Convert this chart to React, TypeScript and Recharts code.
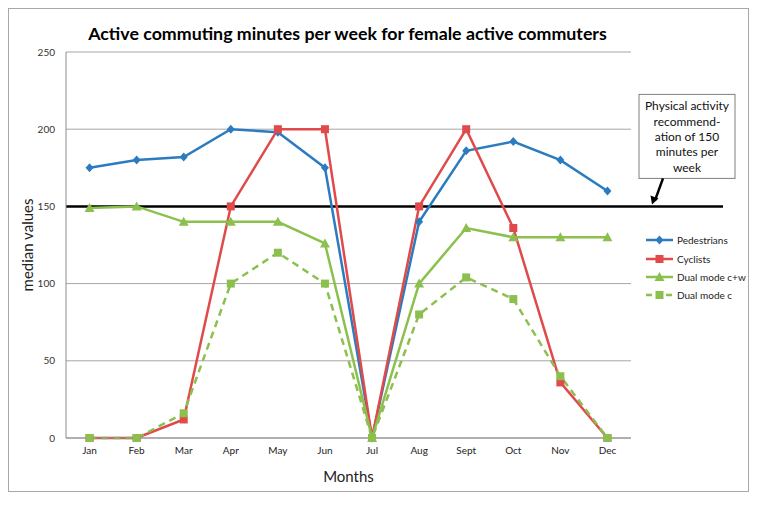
import React from 'react';
import { LineChart, Line, XAxis, YAxis, CartesianGrid, ReferenceLine, Label } from 'recharts';

const months = ['Jan', 'Feb', 'Mar', 'Apr', 'May', 'Jun', 'Jul', 'Aug', 'Sept', 'Oct', 'Nov', 'Dec'];
const pedestrians = [175, 180, 182, 200, 198, 175, 0, 140, 186, 192, 180, 160];
const cyclists = [0, 0, 12, 150, 200, 200, 0, 150, 200, 136, 36, 0];
const dualModeCW = [149, 150, 140, 140, 140, 126, 0, 100, 136, 130, 130, 130];
const dualModeC = [0, 0, 16, 100, 120, 100, 0, 80, 104, 90, 40, 0];
const yTicks = [0, 50, 100, 150, 200, 250];
const recommendation = 150;
const noteLines = ['Physical activity', 'recommend-', 'ation of 150', 'minutes per', 'week'];

const BLUE = '#2b7bc0';
const RED = '#e04a4a';
const GREEN = '#8cc04e';
const FONT = 'Lato, "Open Sans", sans-serif';

const data = months.map((m, i) => ({
  month: m,
  ped: pedestrians[i],
  cyc: cyclists[i],
  cw: dualModeCW[i],
  c: dualModeC[i],
}));

type Shape = 'diamond' | 'square' | 'triangle';

const marker = (shape: Shape, color: string, cx: number, cy: number, key?: string) => {
  if (shape === 'diamond') {
    return <polygon key={key} points={`${cx},${cy - 4.5} ${cx + 4},${cy} ${cx},${cy + 4.5} ${cx - 4},${cy}`} fill={color} />;
  }
  if (shape === 'triangle') {
    return <polygon key={key} points={`${cx},${cy - 5} ${cx + 5},${cy + 4} ${cx - 5},${cy + 4}`} fill={color} />;
  }
  return <rect key={key} x={cx - 4} y={cy - 4} width={8} height={8} fill={color} />;
};

const dotFor = (shape: Shape, color: string) => (props: any) =>
  marker(shape, color, props.cx, props.cy, `${shape}-${props.index}`);

const series = [
  { key: 'ped', name: 'Pedestrians', color: BLUE, shape: 'diamond' as Shape, dash: undefined },
  { key: 'cyc', name: 'Cyclists', color: RED, shape: 'square' as Shape, dash: undefined },
  { key: 'cw', name: 'Dual mode c+w', color: GREEN, shape: 'triangle' as Shape, dash: undefined },
  { key: 'c', name: 'Dual mode c', color: GREEN, shape: 'square' as Shape, dash: '7 5' },
];

const LegendBox = () => (
  <div style={{ position: 'absolute', left: 637, top: 223, fontFamily: FONT, fontSize: 10, color: '#222' }}>
    {series.map(s => (
      <div key={s.key} style={{ display: 'flex', alignItems: 'center', height: 18.4 }}>
        <svg width={30} height={12} style={{ marginRight: 2 }}>
          <line x1={1} y1={6} x2={28} y2={6} stroke={s.color} strokeWidth={2.5} strokeDasharray={s.dash ? '6 4' : undefined} />
          {marker(s.shape, s.color, 14.5, 6)}
        </svg>
        <span>{s.name}</span>
      </div>
    ))}
  </div>
);

const RecommendationLine = (props: any) => {
  const { x1, y1, x2 } = props;
  const boxX = x2 + 8;
  const boxY = y1 - 112;
  return (
    <g>
      <line x1={x1} y1={y1} x2={x2 + 92} y2={y1} stroke="#000" strokeWidth={2.5} />
      <rect x={boxX} y={boxY} width={96} height={84} fill="#fff" stroke="#7f7f7f" strokeWidth={1} />
      {noteLines.map((t, i) => (
        <text key={t} x={boxX + 48} y={boxY + 16 + i * 15.3} textAnchor="middle" fontFamily={FONT} fontSize={12} fill="#111">
          {t}
        </text>
      ))}
      <line x1={boxX + 24} y1={boxY + 84} x2={boxX + 16} y2={y1 - 6} stroke="#000" strokeWidth={2.5} />
      <polygon points={`${boxX + 13},${y1 - 2} ${boxX + 11.5},${y1 - 11} ${boxX + 19.5},${y1 - 8}`} fill="#000" />
    </g>
  );
};

export default function App() {
  return (
    <div style={{ position: 'relative', width: 741, height: 484 }}>
      <div style={{ position: 'absolute', inset: 0, border: '1px solid #a8a8a8', pointerEvents: 'none' }} />
      <div
        style={{
          position: 'absolute',
          left: 0,
          width: 679,
          top: 14,
          textAlign: 'center',
          fontFamily: FONT,
          fontWeight: 700,
          fontSize: 17.8,
          color: '#000',
        }}
      >
        Active commuting minutes per week for female active commuters
      </div>
      <LineChart width={741} height={484} data={data} margin={{ top: 44, right: 118, left: 28, bottom: 24 }}>
        <CartesianGrid vertical={false} stroke="#a6a6a6" strokeWidth={1} />
        <XAxis
          dataKey="month"
          scale="band"
          tickLine={false}
          axisLine={{ stroke: '#8c8c8c' }}
          tick={{ fontSize: 10, fill: '#222', fontFamily: FONT }}
          tickMargin={3}
          height={30}
        >
          <Label
            content={(p: any) => (
              <text x={p.viewBox.x + p.viewBox.width / 2} y={474} textAnchor="middle" fontFamily={FONT} fontSize={15} fill="#222">
                Months
              </text>
            )}
          />
        </XAxis>
        <YAxis
          domain={[0, 250]}
          ticks={yTicks}
          tickLine={false}
          axisLine={{ stroke: '#8c8c8c' }}
          tick={{ fontSize: 10, fill: '#333', fontFamily: FONT }}
          tickMargin={5}
          width={30}
        >
          <Label
            content={(p: any) => {
              const cy = p.viewBox.y + p.viewBox.height / 2;
              return (
                <text x={25} y={cy} transform={`rotate(-90 25 ${cy})`} textAnchor="middle" fontFamily={FONT} fontSize={15} fill="#222">
                  median values
                </text>
              );
            }}
          />
        </YAxis>
        <ReferenceLine y={recommendation} shape={RecommendationLine} ifOverflow="visible" />
        {series.map(s => (
          <Line
            key={s.key}
            dataKey={s.key}
            name={s.name}
            stroke={s.color}
            strokeWidth={2.5}
            strokeDasharray={s.dash}
            dot={dotFor(s.shape, s.color)}
            activeDot={false}
            isAnimationActive={false}
          />
        ))}
      </LineChart>
      <LegendBox />
    </div>
  );
}
